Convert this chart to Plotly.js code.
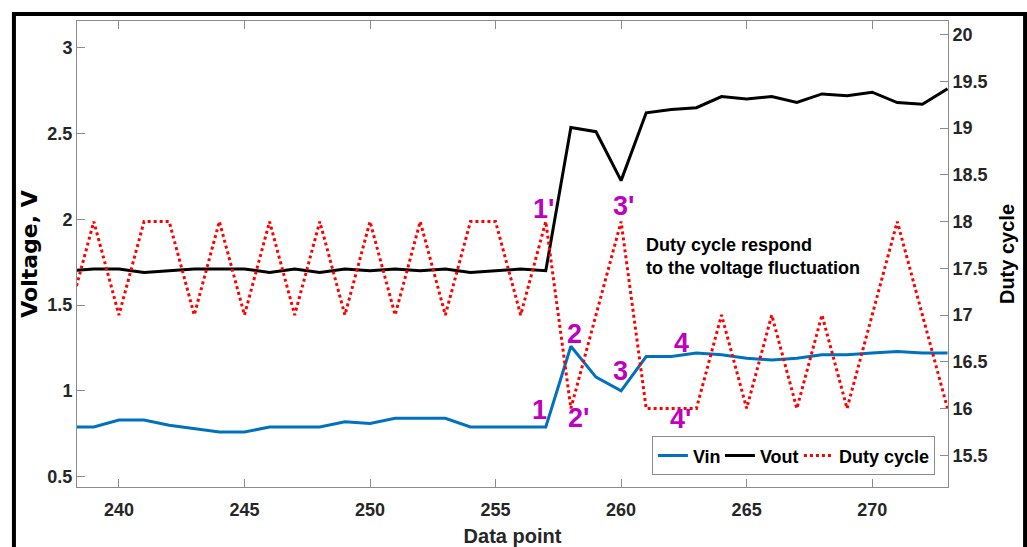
<!DOCTYPE html>
<html>
<head>
<meta charset="utf-8">
<script src="https://cdn.plot.ly/plotly-3.0.1.min.js"></script>
<style>
  html, body { margin: 0; padding: 0; background: #ffffff; }
  #chart { width: 1027px; height: 547px; }
</style>
</head>
<body>
<div id="chart"></div>
<script>
// ---- data ----
const dataPoint = [238,239,240,241,242,243,244,245,246,247,248,249,250,251,252,253,254,255,256,257,
                   258,259,260,261,262,263,264,265,266,267,268,269,270,271,272,273];
const vin  = [0.79,0.79,0.83,0.83,0.80,0.78,0.76,0.76,0.79,0.79,0.79,0.82,0.81,0.84,0.84,0.84,0.79,0.79,0.79,0.79,
              1.26,1.08,1.00,1.20,1.20,1.22,1.21,1.19,1.18,1.19,1.21,1.21,1.22,1.23,1.22,1.22];
const vout = [1.70,1.71,1.71,1.69,1.70,1.71,1.71,1.71,1.69,1.71,1.69,1.71,1.70,1.71,1.70,1.71,1.69,1.70,1.71,1.70,
              2.535,2.51,2.225,2.62,2.64,2.65,2.715,2.70,2.715,2.68,2.73,2.72,2.74,2.68,2.67,2.76];
const duty = [17,18,17,18,18,17,18,17,18,17,18,17,18,17,18,17,18,18,17,18,
              16,17,18,16,16,16,17,16,17,16,17,16,17,18,17,16];

const leftTicks  = [0.5, 1, 1.5, 2, 2.5, 3];
const rightTicks = [15.5, 16, 16.5, 17, 17.5, 18, 18.5, 19, 19.5, 20];
const xTicks     = [240, 245, 250, 255, 260, 265, 270];

// point labels (text, x, y on voltage axis)
const markText = ["1'", "3'", "2", "2'", "3", "1", "4", "4'"];
const markX    = [256.9, 260.1, 258.15, 258.3, 259.98, 256.75, 262.4, 262.37];
const markY    = [2.06, 2.08, 1.33, 0.84, 1.116, 0.89, 1.28, 0.836];

const noteText = "Duty cycle respond<br>to the voltage fluctuation";

// ---- styling ----
const FONT = "Liberation Sans, Arial, Helvetica, sans-serif";
const AX = "#8c8c8c";
const TXT = "#262626";

const traces = [
  { x: dataPoint, y: vin, name: "Vin", type: "scatter", mode: "lines",
    line: { color: "#0072BD", width: 3 }, yaxis: "y", legendwidth: 22 },
  { x: dataPoint, y: vout, name: "Vout", type: "scatter", mode: "lines",
    line: { color: "#000000", width: 3 }, yaxis: "y", legendwidth: 34 },
  { x: dataPoint, y: duty, name: "Duty cycle", type: "scatter", mode: "lines",
    line: { color: "#ff0000", width: 3, dash: "dot" }, yaxis: "y2", legendwidth: 90 }
];

const annotations = markText.map((t, i) => ({
  text: t, x: markX[i], y: markY[i], xref: "x", yref: "y",
  showarrow: false, xanchor: "center", yanchor: "middle",
  font: { family: FONT, size: 27, color: "#bf00bf", weight: "bold" }
}));
annotations.push({
  text: noteText, x: 260.9, y: 1.783, xref: "x", yref: "y",
  showarrow: false, xanchor: "left", yanchor: "middle", align: "left",
  font: { family: FONT, size: 18, color: "#000000", weight: "bold" }
});

const layout = {
  width: 1027, height: 547,
  margin: { l: 77, r: 79, t: 21, b: 60 },
  paper_bgcolor: "#ffffff", plot_bgcolor: "#ffffff",
  showlegend: true,
  legend: {
    orientation: "h", x: 0.985, y: 0.025, xanchor: "right", yanchor: "bottom",
    bgcolor: "#ffffff", bordercolor: AX, borderwidth: 1,
    itemwidth: 30, tracegroupgap: 0,
    font: { family: FONT, size: 18, color: "#000000", weight: "bold" }
  },
  xaxis: {
    range: [238.33, 273.02], tickvals: xTicks, ticks: "inside", ticklen: 8,
    tickcolor: AX, showline: true, linecolor: AX, linewidth: 1, mirror: "ticks",
    showgrid: false, zeroline: false, ticklabelstandoff: 6,
    tickfont: { family: FONT, size: 18, color: TXT, weight: "bold" },
    title: { text: "Data point", standoff: 12,
             font: { family: FONT, size: 20, color: TXT, weight: "bold" } }
  },
  yaxis: {
    range: [0.44, 3.155], tickvals: leftTicks, ticks: "inside", ticklen: 8,
    tickcolor: AX, showline: true, linecolor: AX, linewidth: 1,
    showgrid: false, zeroline: false,
    tickfont: { family: FONT, size: 18, color: TXT, weight: "bold" },
    title: { text: "Voltage, V", standoff: 3,
             font: { family: "DejaVu Sans, sans-serif", size: 22, color: "#000000", weight: "bold" } }
  },
  yaxis2: {
    range: [15.16, 20.145], tickvals: rightTicks, ticks: "inside", ticklen: 8,
    overlaying: "y", side: "right",
    tickcolor: AX, showline: true, linecolor: AX, linewidth: 1,
    showgrid: false, zeroline: false,
    tickfont: { family: FONT, size: 18, color: TXT, weight: "bold" },
    title: { text: "Duty cycle", standoff: 13,
             font: { family: FONT, size: 20, color: "#000000", weight: "bold" } }
  },
  annotations: annotations,
  shapes: [{
    type: "rect", xref: "paper", yref: "paper",
    x0: -0.0724, x1: 1.0885, y0: -0.2, y1: 1.015,
    line: { color: "#000000", width: 4 }, fillcolor: "rgba(0,0,0,0)", layer: "above"
  }]
};

Plotly.newPlot("chart", traces, layout, { displayModeBar: false, staticPlot: true });
</script>
</body>
</html>
